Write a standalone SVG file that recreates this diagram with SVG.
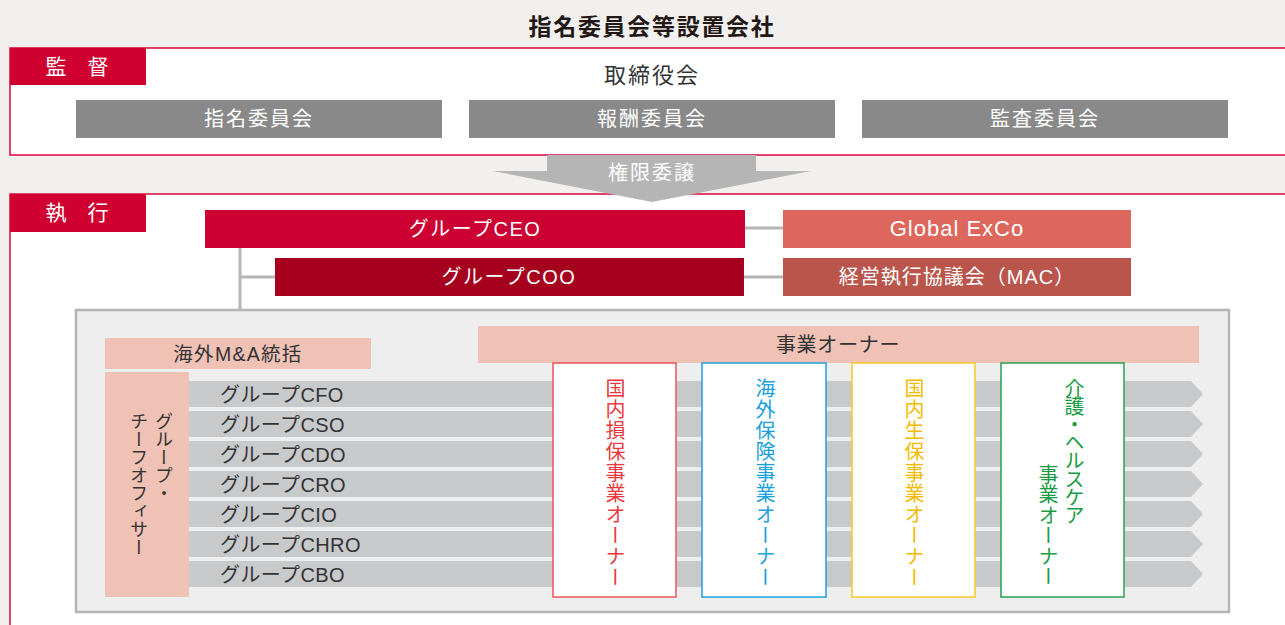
<svg xmlns="http://www.w3.org/2000/svg" width="1285" height="625" viewBox="0 0 1285 625">
<style>
text{font-family:"Liberation Sans","Noto Sans CJK JP",sans-serif;}
.w{fill:#ffffff;}
.d{fill:#333333;}
.c{text-anchor:middle;}
.v{writing-mode:vertical-rl;text-anchor:start;}
.frame{fill:#ffffff;stroke:#d8063b;stroke-width:1.5;}
.tag{fill:#cf0030;}
.cmt{fill:#898989;}
.conn{stroke:#b5b5b5;stroke-width:3;fill:none;}
.bar{fill:#c8c9cb;}
.pink{fill:#f0c1b5;}
.own{fill:#ffffff;stroke-width:1.5;}
.row{font-size:20px;letter-spacing:0.4px;}
</style>
<rect x="0" y="0" width="1285" height="625" fill="#f1f0ee"/>
<text x="652" y="35" class="c" font-size="23" font-weight="700" letter-spacing="1.7" fill="#231815">指名委員会等設置会社</text>

<g id="supervision">
<rect class="frame" x="10" y="48" width="1290" height="107"/>
<rect class="tag" x="10" y="48" width="136" height="37"/>
<text x="77" y="74" class="c w" font-size="21">監　督</text>
<text x="652" y="83" class="c d" font-size="22" letter-spacing="2">取締役会</text>
</g>
<g id="nominating">
<rect class="cmt" x="76" y="100" width="366" height="38"/>
<text x="259" y="126" class="c w" font-size="20" letter-spacing="2">指名委員会</text>
</g>
<g id="compensation">
<rect class="cmt" x="469" y="100" width="366" height="38"/>
<text x="652" y="126" class="c w" font-size="20" letter-spacing="2">報酬委員会</text>
</g>
<g id="audit">
<rect class="cmt" x="862" y="100" width="366" height="38"/>
<text x="1045" y="126" class="c w" font-size="20" letter-spacing="2">監査委員会</text>
</g>

<g id="execution">
<rect class="frame" x="10" y="194" width="1290" height="450"/>
<rect class="tag" x="10" y="194" width="136" height="38"/>
<text x="77" y="220" class="c w" font-size="21">執　行</text>
</g>

<g id="delegation">
<path d="M547,155 H756 V171 H811 L652,202 L493,171 H547 Z" fill="#b5b5b5"/>
<text x="652" y="180" class="c w" font-size="20" letter-spacing="2">権限委譲</text>
</g>

<g id="connectors">
<line class="conn" x1="745" y1="228" x2="783" y2="228"/>
<line class="conn" x1="744" y1="277" x2="783" y2="277"/>
<line class="conn" x1="240" y1="247" x2="240" y2="310"/>
<line class="conn" x1="240" y1="277" x2="275" y2="277"/>
</g>

<g id="ceo">
<rect x="205" y="210" width="540" height="38" fill="#cc0033"/>
<text x="475" y="236" class="c w" font-size="20" letter-spacing="1.5">グループCEO</text>
</g>
<g id="coo">
<rect x="275" y="258" width="469" height="38" fill="#a5001e"/>
<text x="509" y="284" class="c w" font-size="20" letter-spacing="1.5">グループCOO</text>
</g>
<g id="exco">
<rect x="783" y="210" width="348" height="38" fill="#dd675c"/>
<text x="957" y="236" class="c w" font-size="22" letter-spacing="1">Global ExCo</text>
</g>
<g id="mac">
<rect x="783" y="258" width="348" height="38" fill="#b9554b"/>
<text x="957" y="284" class="c w" font-size="20" letter-spacing="1">経営執行協議会（MAC）</text>
</g>

<g id="group-area">
<rect x="76" y="310" width="1153" height="302" fill="#eeeeee" stroke="#b4b4b4" stroke-width="2.5"/>
</g>

<g id="officers">
<path class="bar" d="M189,381 H1191 L1203,394 L1191,407 H189 Z"/>
<path class="bar" d="M189,411 H1191 L1203,424 L1191,437 H189 Z"/>
<path class="bar" d="M189,441 H1191 L1203,454 L1191,467 H189 Z"/>
<path class="bar" d="M189,471 H1191 L1203,484 L1191,497 H189 Z"/>
<path class="bar" d="M189,501 H1191 L1203,514 L1191,527 H189 Z"/>
<path class="bar" d="M189,531 H1191 L1203,544 L1191,557 H189 Z"/>
<path class="bar" d="M189,561 H1191 L1203,574 L1191,587 H189 Z"/>
<text x="220" y="402" class="d row">グループCFO</text>
<text x="220" y="432" class="d row">グループCSO</text>
<text x="220" y="462" class="d row">グループCDO</text>
<text x="220" y="492" class="d row">グループCRO</text>
<text x="220" y="522" class="d row">グループCIO</text>
<text x="220" y="552" class="d row">グループCHRO</text>
<text x="220" y="582" class="d row">グループCBO</text>
</g>

<g id="ma">
<rect class="pink" x="105" y="338" width="266" height="31"/>
<text x="238" y="361" class="c d" font-size="19.5" letter-spacing="1.3">海外M&amp;A統括</text>
</g>

<g id="chief-officers">
<rect class="pink" x="105" y="372" width="84" height="225"/>
<text x="162" y="412" class="v d" font-size="18">グループ・</text>
<text x="137" y="412" class="v d" font-size="18">チーフオフィサー</text>
</g>

<g id="business-owners">
<rect class="pink" x="478" y="326" width="721" height="37"/>
<text x="838" y="352" class="c d" font-size="20" letter-spacing="0.7">事業オーナー</text>
</g>

<g id="owner-domestic-pc">
<rect class="own" x="553" y="363" width="123" height="234" stroke="#e9545c"/>
<text x="614" y="378" class="v" font-size="20" letter-spacing="1" fill="#e8383d">国内損保事業オーナー</text>
</g>
<g id="owner-overseas">
<rect class="own" x="702" y="363" width="124" height="234" stroke="#1ba1dc"/>
<text x="764" y="378" class="v" font-size="20" letter-spacing="1" fill="#1aa0dc">海外保険事業オーナー</text>
</g>
<g id="owner-domestic-life">
<rect class="own" x="852" y="363" width="123" height="234" stroke="#f9c824"/>
<text x="913" y="378" class="v" font-size="20" letter-spacing="1" fill="#f3bb00">国内生保事業オーナー</text>
</g>
<g id="owner-nursing">
<rect class="own" x="1001" y="363" width="123" height="234" stroke="#2aa050"/>
<text x="1073" y="378" class="v" font-size="20" letter-spacing="-1.8" fill="#1a9a45">介護・ヘルスケア</text>
<text x="1047" y="464" class="v" font-size="20" letter-spacing="0.5" fill="#1a9a45">事業オーナー</text>
</g>
</svg>
